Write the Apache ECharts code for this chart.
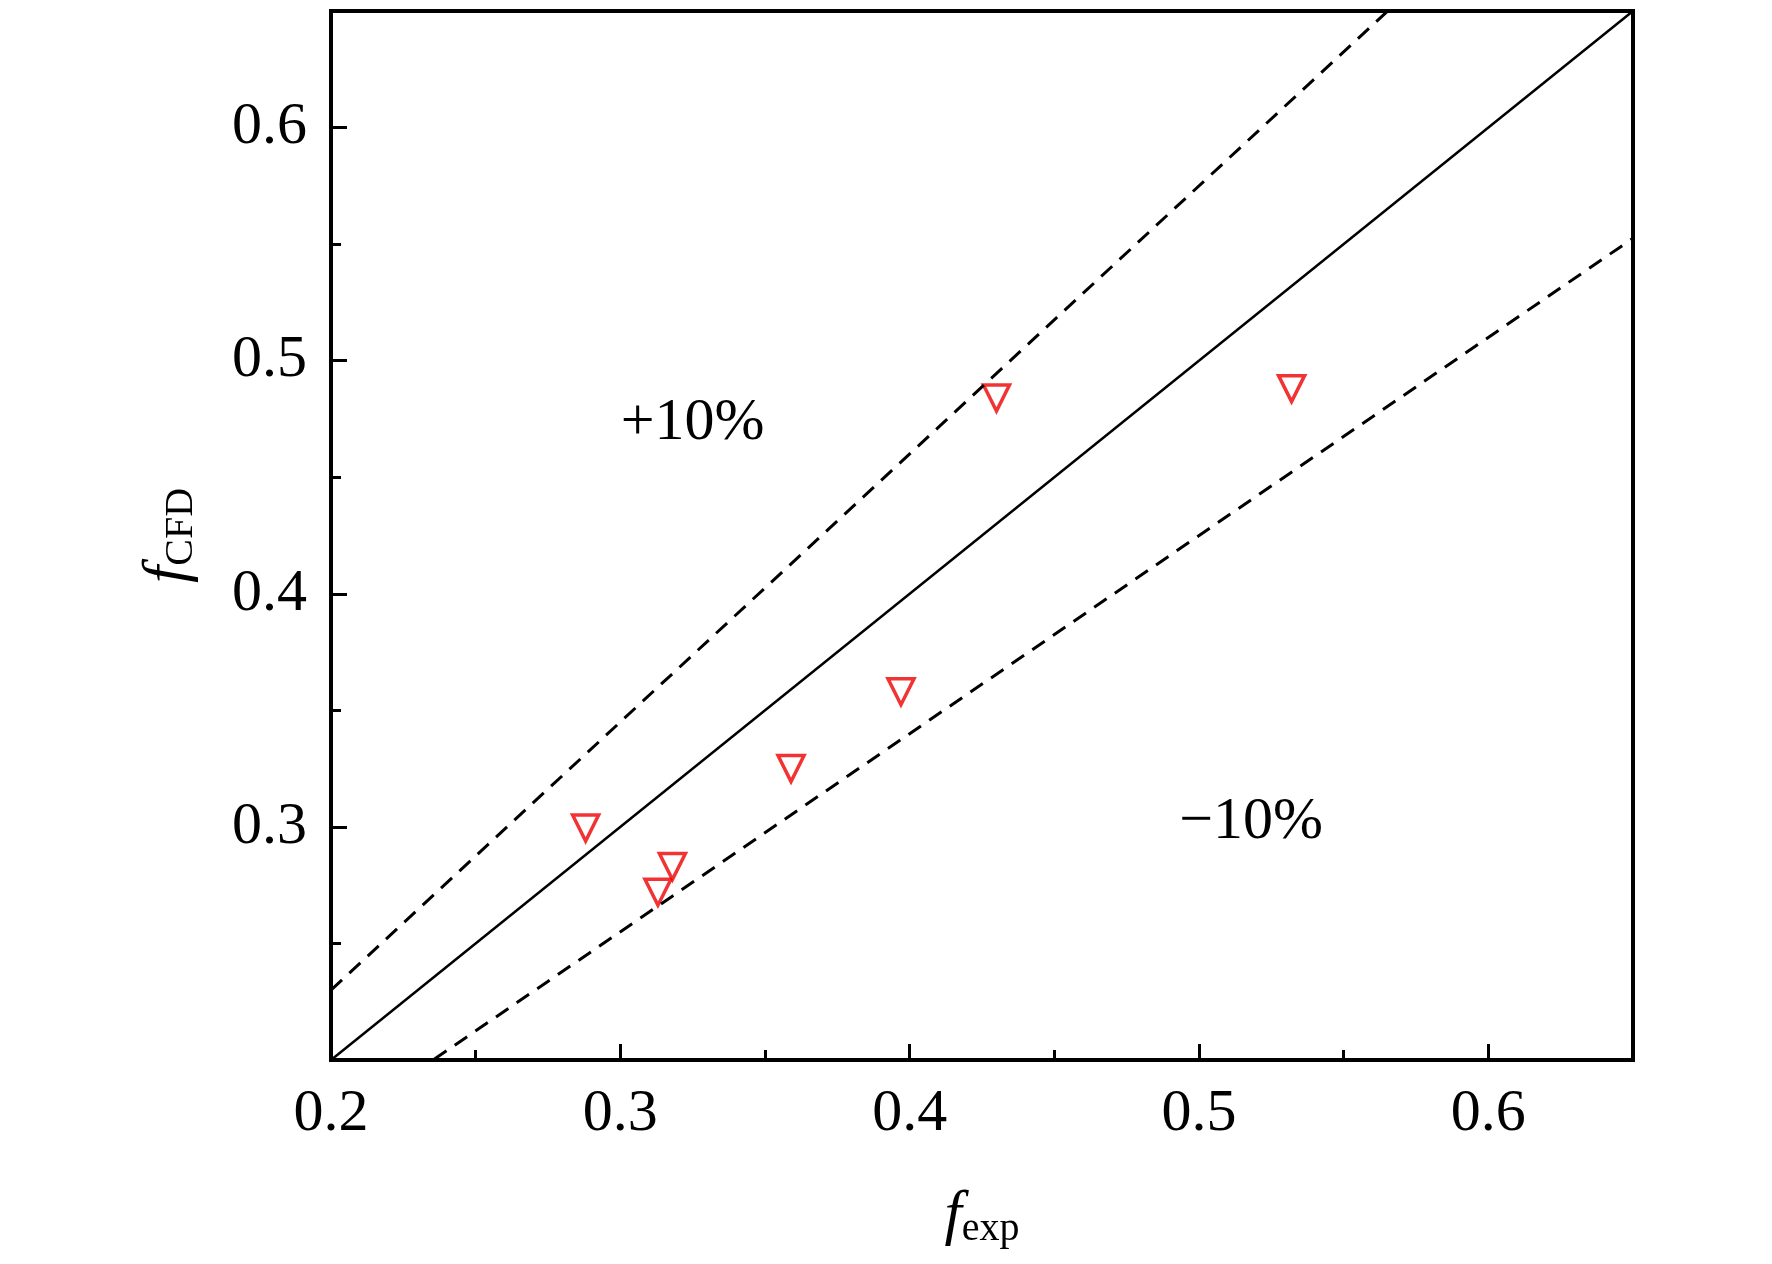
<!DOCTYPE html>
<html><head><meta charset="utf-8">
<script src="https://cdn.jsdelivr.net/npm/echarts@6/dist/echarts.min.js"></script>
<style>html,body{margin:0;background:#fff}#c{width:1772px;height:1264px}</style>
</head><body><div id="c"></div>
<script>
// measured points (f_exp, f_CFD)
let fExp = [0.288, 0.313, 0.318, 0.359, 0.397, 0.430, 0.532];
let fCfd = [0.2995, 0.272, 0.283, 0.325, 0.358, 0.484, 0.488];
let lineX = [0.2, 0.65];
let upperK = 1.15, lowerK = 0.85;
let tickLabels = ['0.2', '0.3', '0.4', '0.5', '0.6'];

let font = 'Liberation Serif';
let chart = echarts.init(document.getElementById('c'));

function lineData(k) {
    return lineX.map(function (x) { return [x, k * x]; });
}

function axis(name, isY) {
    return {
        type: 'value', min: 0.2, max: 0.65, interval: 0.1,
        name: name, nameLocation: 'middle', nameGap: isY ? 130 : 125,
        nameTextStyle: {
            rich: {
                f: {fontFamily: font, fontStyle: 'italic', fontSize: 62, color: '#000'},
                s: {fontFamily: font, fontSize: 40, color: '#000', padding: [24, 0, 0, 0]}
            }
        },
        axisLine: {lineStyle: {color: '#000', width: 4}},
        axisTick: {inside: true, length: 16, lineStyle: {width: 3, color: '#000'}},
        minorTick: {show: true, splitNumber: 2, length: 10, lineStyle: {width: 3, color: '#000'}},
        splitLine: {show: false},
        axisLabel: {
            fontFamily: font, fontSize: 60, color: '#000', margin: 24,
            formatter: function (v) {
                let s = v.toFixed(1);
                if (isY && s === '0.2') return '';
                return tickLabels.indexOf(s) >= 0 ? s : '';
            }
        }
    };
}

let dash = {color: '#000', width: 3, type: [15, 10]};

chart.setOption({
    animation: false,
    grid: {left: 331, right: 139, top: 11, bottom: 204, show: true, borderColor: '#000', borderWidth: 4},
    xAxis: axis('{f|f}{s|exp}', false),
    yAxis: axis('{f|f}{s|CFD}', true),
    series: [
        {type: 'line', data: lineData(1), symbol: 'none', lineStyle: {color: '#000', width: 2.5}},
        {type: 'line', data: lineData(upperK), symbol: 'none', lineStyle: dash},
        {type: 'line', data: lineData(lowerK), symbol: 'none', lineStyle: dash},
        {
            type: 'scatter', data: fExp.map(function (x, i) { return [x, fCfd[i]]; }),
            symbol: 'triangle', symbolRotate: 180, symbolSize: 26,
            itemStyle: {color: '#fff', borderColor: '#ee0000', borderWidth: 3.5},
            markPoint: {
                symbol: 'circle', symbolSize: 1, itemStyle: {color: 'transparent'},
                label: {show: true, fontFamily: font, fontSize: 60, color: '#000'},
                data: [
                    {coord: [0.325, 0.473], value: '+10%', label: {formatter: '+10%'}},
                    {coord: [0.518, 0.302], value: '−10%', label: {formatter: '−10%'}}
                ]
            }
        }
    ]
});
</script></body></html>
